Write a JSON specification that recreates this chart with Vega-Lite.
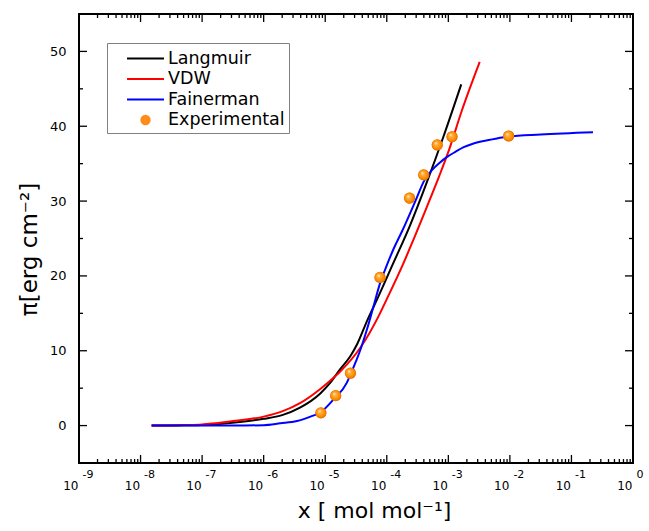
{
  "$schema": "https://vega.github.io/schema/vega-lite/v6.json",
  "width": 554,
  "height": 449,
  "autosize": {"type": "none"},
  "padding": {"left": 79, "top": 14, "right": 16, "bottom": 68},
  "background": "white",
  "config": {"view": {"stroke": "black", "strokeWidth": 2}, "font": "DejaVu Sans"},
  "datasets": {
    "curves": [
      {"x": 1.514e-8, "pi": 0, "series": "Langmuir"},
      {"x": 5.01e-8, "pi": 0.03, "series": "Langmuir"},
      {"x": 1e-7, "pi": 0.08, "series": "Langmuir"},
      {"x": 2.818e-7, "pi": 0.35, "series": "Langmuir"},
      {"x": 1e-6, "pi": 0.9, "series": "Langmuir"},
      {"x": 1.995e-6, "pi": 1.4, "series": "Langmuir"},
      {"x": 3.89e-6, "pi": 2.4, "series": "Langmuir"},
      {"x": 8.318e-6, "pi": 4.3, "series": "Langmuir"},
      {"x": 1.202e-5, "pi": 5.7, "series": "Langmuir"},
      {"x": 1.738e-5, "pi": 7.5, "series": "Langmuir"},
      {"x": 2.57e-5, "pi": 9.3, "series": "Langmuir"},
      {"x": 3.311e-5, "pi": 10.9, "series": "Langmuir"},
      {"x": 4.786e-5, "pi": 14.0, "series": "Langmuir"},
      {"x": 7.079e-5, "pi": 17.0, "series": "Langmuir"},
      {"x": 1.259e-4, "pi": 21.6, "series": "Langmuir"},
      {"x": 2.399e-4, "pi": 26.8, "series": "Langmuir"},
      {"x": 4.467e-4, "pi": 32.5, "series": "Langmuir"},
      {"x": 8.318e-4, "pi": 38.6, "series": "Langmuir"},
      {"x": 1.622e-3, "pi": 45.6, "series": "Langmuir"},
      {"x": 1.514e-8, "pi": 0, "series": "VDW"},
      {"x": 5.01e-8, "pi": 0.07, "series": "VDW"},
      {"x": 1e-7, "pi": 0.15, "series": "VDW"},
      {"x": 2.818e-7, "pi": 0.55, "series": "VDW"},
      {"x": 1e-6, "pi": 1.2, "series": "VDW"},
      {"x": 1.995e-6, "pi": 1.9, "series": "VDW"},
      {"x": 3.89e-6, "pi": 3.0, "series": "VDW"},
      {"x": 8.318e-6, "pi": 4.9, "series": "VDW"},
      {"x": 1.202e-5, "pi": 6.0, "series": "VDW"},
      {"x": 1.738e-5, "pi": 7.2, "series": "VDW"},
      {"x": 3.715e-5, "pi": 10.4, "series": "VDW"},
      {"x": 7.762e-5, "pi": 15.0, "series": "VDW"},
      {"x": 1e-4, "pi": 16.9, "series": "VDW"},
      {"x": 1.778e-4, "pi": 21.3, "series": "VDW"},
      {"x": 2.399e-4, "pi": 23.8, "series": "VDW"},
      {"x": 4.467e-4, "pi": 29.2, "series": "VDW"},
      {"x": 7.079e-4, "pi": 33.3, "series": "VDW"},
      {"x": 1.023e-3, "pi": 36.8, "series": "VDW"},
      {"x": 1.66e-3, "pi": 42.1, "series": "VDW"},
      {"x": 3.236e-3, "pi": 48.6, "series": "VDW"},
      {"x": 1.514e-8, "pi": 0, "series": "Fainerman"},
      {"x": 3.162e-7, "pi": 0, "series": "Fainerman"},
      {"x": 1e-6, "pi": 0.05, "series": "Fainerman"},
      {"x": 1.862e-6, "pi": 0.3, "series": "Fainerman"},
      {"x": 3.467e-6, "pi": 0.6, "series": "Fainerman"},
      {"x": 5.754e-6, "pi": 1.2, "series": "Fainerman"},
      {"x": 8.511e-6, "pi": 1.8, "series": "Fainerman"},
      {"x": 1.365e-5, "pi": 3.5, "series": "Fainerman"},
      {"x": 2.239e-5, "pi": 5.7, "series": "Fainerman"},
      {"x": 2.57e-5, "pi": 6.8, "series": "Fainerman"},
      {"x": 3.162e-5, "pi": 8.6, "series": "Fainerman"},
      {"x": 3.715e-5, "pi": 10.1, "series": "Fainerman"},
      {"x": 4.786e-5, "pi": 12.9, "series": "Fainerman"},
      {"x": 6.026e-5, "pi": 15.8, "series": "Fainerman"},
      {"x": 7.762e-5, "pi": 19.0, "series": "Fainerman"},
      {"x": 9.772e-5, "pi": 21.2, "series": "Fainerman"},
      {"x": 1.288e-4, "pi": 23.6, "series": "Fainerman"},
      {"x": 1.778e-4, "pi": 26.0, "series": "Fainerman"},
      {"x": 2.399e-4, "pi": 28.4, "series": "Fainerman"},
      {"x": 3.09e-4, "pi": 30.5, "series": "Fainerman"},
      {"x": 3.981e-4, "pi": 32.6, "series": "Fainerman"},
      {"x": 5.37e-4, "pi": 34.1, "series": "Fainerman"},
      {"x": 7.413e-4, "pi": 35.2, "series": "Fainerman"},
      {"x": 9.55e-4, "pi": 35.9, "series": "Fainerman"},
      {"x": 1.318e-3, "pi": 36.6, "series": "Fainerman"},
      {"x": 1.778e-3, "pi": 37.2, "series": "Fainerman"},
      {"x": 2.57e-3, "pi": 37.7, "series": "Fainerman"},
      {"x": 4.786e-3, "pi": 38.2, "series": "Fainerman"},
      {"x": 8.913e-3, "pi": 38.6, "series": "Fainerman"},
      {"x": 3.162e-2, "pi": 38.9, "series": "Fainerman"},
      {"x": 0.2239, "pi": 39.2, "series": "Fainerman"}
    ],
    "exp": [
      {"x": 8.51e-6, "pi": 1.7},
      {"x": 1.479e-5, "pi": 4.0},
      {"x": 2.57e-5, "pi": 7.0},
      {"x": 7.762e-5, "pi": 19.8},
      {"x": 2.344e-4, "pi": 30.4},
      {"x": 3.981e-4, "pi": 33.5},
      {"x": 6.607e-4, "pi": 37.5},
      {"x": 1.148e-3, "pi": 38.6},
      {"x": 9.55e-3, "pi": 38.7}
    ],
    "xticks": [
      {"t": 1e-9, "kind": "major"}, {"t": 2e-9, "kind": "minor"}, {"t": 3e-9, "kind": "minor"}, {"t": 4e-9, "kind": "minor"}, {"t": 5e-9, "kind": "minor"}, {"t": 6e-9, "kind": "minor"}, {"t": 7e-9, "kind": "minor"}, {"t": 8e-9, "kind": "minor"}, {"t": 9e-9, "kind": "minor"},
      {"t": 1e-8, "kind": "major"}, {"t": 2e-8, "kind": "minor"}, {"t": 3e-8, "kind": "minor"}, {"t": 4e-8, "kind": "minor"}, {"t": 5e-8, "kind": "minor"}, {"t": 6e-8, "kind": "minor"}, {"t": 7e-8, "kind": "minor"}, {"t": 8e-8, "kind": "minor"}, {"t": 9e-8, "kind": "minor"},
      {"t": 1e-7, "kind": "major"}, {"t": 2e-7, "kind": "minor"}, {"t": 3e-7, "kind": "minor"}, {"t": 4e-7, "kind": "minor"}, {"t": 5e-7, "kind": "minor"}, {"t": 6e-7, "kind": "minor"}, {"t": 7e-7, "kind": "minor"}, {"t": 8e-7, "kind": "minor"}, {"t": 9e-7, "kind": "minor"},
      {"t": 1e-6, "kind": "major"}, {"t": 2e-6, "kind": "minor"}, {"t": 3e-6, "kind": "minor"}, {"t": 4e-6, "kind": "minor"}, {"t": 5e-6, "kind": "minor"}, {"t": 6e-6, "kind": "minor"}, {"t": 7e-6, "kind": "minor"}, {"t": 8e-6, "kind": "minor"}, {"t": 9e-6, "kind": "minor"},
      {"t": 1e-5, "kind": "major"}, {"t": 2e-5, "kind": "minor"}, {"t": 3e-5, "kind": "minor"}, {"t": 4e-5, "kind": "minor"}, {"t": 5e-5, "kind": "minor"}, {"t": 6e-5, "kind": "minor"}, {"t": 7e-5, "kind": "minor"}, {"t": 8e-5, "kind": "minor"}, {"t": 9e-5, "kind": "minor"},
      {"t": 1e-4, "kind": "major"}, {"t": 2e-4, "kind": "minor"}, {"t": 3e-4, "kind": "minor"}, {"t": 4e-4, "kind": "minor"}, {"t": 5e-4, "kind": "minor"}, {"t": 6e-4, "kind": "minor"}, {"t": 7e-4, "kind": "minor"}, {"t": 8e-4, "kind": "minor"}, {"t": 9e-4, "kind": "minor"},
      {"t": 1e-3, "kind": "major"}, {"t": 2e-3, "kind": "minor"}, {"t": 3e-3, "kind": "minor"}, {"t": 4e-3, "kind": "minor"}, {"t": 5e-3, "kind": "minor"}, {"t": 6e-3, "kind": "minor"}, {"t": 7e-3, "kind": "minor"}, {"t": 8e-3, "kind": "minor"}, {"t": 9e-3, "kind": "minor"},
      {"t": 1e-2, "kind": "major"}, {"t": 2e-2, "kind": "minor"}, {"t": 3e-2, "kind": "minor"}, {"t": 4e-2, "kind": "minor"}, {"t": 5e-2, "kind": "minor"}, {"t": 6e-2, "kind": "minor"}, {"t": 7e-2, "kind": "minor"}, {"t": 8e-2, "kind": "minor"}, {"t": 9e-2, "kind": "minor"},
      {"t": 1e-1, "kind": "major"}, {"t": 2e-1, "kind": "minor"}, {"t": 3e-1, "kind": "minor"}, {"t": 4e-1, "kind": "minor"}, {"t": 5e-1, "kind": "minor"}, {"t": 6e-1, "kind": "minor"}, {"t": 7e-1, "kind": "minor"}, {"t": 8e-1, "kind": "minor"}, {"t": 9e-1, "kind": "minor"},
      {"t": 1, "kind": "major"}
    ],
    "yticks": [
      {"v": 0, "kind": "major"}, {"v": 5, "kind": "minor"}, {"v": 10, "kind": "major"}, {"v": 15, "kind": "minor"},
      {"v": 20, "kind": "major"}, {"v": 25, "kind": "minor"}, {"v": 30, "kind": "major"}, {"v": 35, "kind": "minor"},
      {"v": 40, "kind": "major"}, {"v": 45, "kind": "minor"}, {"v": 50, "kind": "major"}
    ]
  },
  "layer": [
    {
      "data": {"name": "curves"},
      "transform": [{"filter": "datum.series === 'Langmuir'"}],
      "mark": {"type": "line", "strokeWidth": 2, "interpolate": "monotone"},
      "encoding": {
        "x": {
          "field": "x", "type": "quantitative",
          "scale": {"type": "log", "domain": [1e-9, 1], "nice": false},
          "axis": {
            "orient": "bottom", "domain": false, "grid": false, "ticks": false, "tickSize": 0,
            "values": [1e-9,1e-8,1e-7,1e-6,1e-5,1e-4,1e-3,1e-2,1e-1,1],
            "labelExpr": "'10'",
            "labelAlign": "right", "labelOffset": -1, "labelPadding": 17,
            "labelFont": "DejaVu Sans", "labelFontSize": 12, "labelColor": "black",
            "labelFlush": false, "labelOverlap": false, "labelBound": false,
            "title": "x [ mol mol⁻¹]", "titleFont": "DejaVu Sans", "titleFontSize": 22, "titleFontWeight": "normal", "titleColor": "black",
            "titleX": 295, "titleY": 54, "titleBaseline": "alphabetic", "titleAlign": "center"
          }
        },
        "y": {
          "field": "pi", "type": "quantitative",
          "scale": {"domain": [-5, 55], "nice": false, "zero": false},
          "axis": {
            "orient": "left", "domain": false, "grid": false, "ticks": false, "tickSize": 0,
            "values": [0,10,20,30,40,50],
            "labelPadding": 13, "labelFont": "DejaVu Sans", "labelFontSize": 13, "labelColor": "black",
            "labelFlush": false, "labelOverlap": false,
            "title": "π[erg cm⁻²]", "titleFont": "DejaVu Sans", "titleFontSize": 23, "titleFontWeight": "normal", "titleColor": "black",
            "titleX": -43, "titleY": 235, "titleBaseline": "alphabetic", "titleAlign": "center", "titleAngle": -90
          }
        },
        "color": {
          "field": "series", "type": "nominal",
          "scale": {"domain": ["Langmuir", "VDW", "Fainerman", "Experimental"], "range": ["#000000", "#ff0000", "#0000ff", "#ff8c1a"]},
          "legend": {
            "orient": "none", "legendX": 28, "legendY": 29, "title": null,
            "padding": 4, "strokeColor": "#808080", "fillColor": "white",
            "symbolType": "M-1.76,0H1.76", "symbolSize": 441, "symbolStrokeWidth": 2,
            "symbolOffset": 23, "labelOffset": 11, "rowPadding": 0.5,
            "labelFont": "DejaVu Sans", "labelFontSize": 17.5, "labelColor": "black",
            "encode": {
              "symbols": {
                "update": {
                  "shape": {"signal": "datum.value === 'Experimental' ? 'circle' : 'M-1.76,0H1.76'"},
                  "size": {"signal": "datum.value === 'Experimental' ? 70 : 441"},
                  "fill": {"signal": "datum.value === 'Experimental' ? '#ff8c1a' : 'transparent'"},
                  "stroke": {"signal": "datum.value === 'Experimental' ? 'transparent' : scale('color', datum.value)"},
                  "strokeWidth": {"value": 2}
                }
              }
            }
          }
        }
      }
    },
    {
      "data": {"name": "curves"},
      "transform": [{"filter": "datum.series === 'VDW'"}],
      "mark": {"type": "line", "strokeWidth": 2, "interpolate": "monotone"},
      "encoding": {
        "x": {
          "field": "x", "type": "quantitative",
          "scale": {"type": "log", "domain": [1e-9, 1], "nice": false},
          "axis": {
            "orient": "bottom", "domain": false, "grid": false, "ticks": false, "tickSize": 0,
            "values": [1e-9,1e-8,1e-7,1e-6,1e-5,1e-4,1e-3,1e-2,1e-1,1],
            "labelExpr": "'' + round(log(datum.value)/LN10)",
            "labelAlign": "left", "labelOffset": 3, "labelPadding": 5,
            "labelFont": "DejaVu Sans", "labelFontSize": 11, "labelColor": "black",
            "labelFlush": false, "labelOverlap": false, "labelBound": false,
            "title": null
          }
        },
        "y": {"field": "pi", "type": "quantitative", "scale": {"domain": [-5, 55], "nice": false, "zero": false}, "axis": null},
        "color": {
          "field": "series", "type": "nominal",
          "scale": {"domain": ["Langmuir", "VDW", "Fainerman", "Experimental"], "range": ["#000000", "#ff0000", "#0000ff", "#ff8c1a"]}
        }
      }
    },
    {
      "data": {"name": "curves"},
      "transform": [{"filter": "datum.series === 'Fainerman'"}],
      "mark": {"type": "line", "strokeWidth": 2, "interpolate": "monotone"},
      "encoding": {
        "x": {"field": "x", "type": "quantitative", "scale": {"type": "log", "domain": [1e-9, 1], "nice": false}, "axis": null},
        "y": {"field": "pi", "type": "quantitative", "scale": {"domain": [-5, 55], "nice": false, "zero": false}, "axis": null},
        "color": {
          "field": "series", "type": "nominal",
          "scale": {"domain": ["Langmuir", "VDW", "Fainerman", "Experimental"], "range": ["#000000", "#ff0000", "#0000ff", "#ff8c1a"]}
        }
      }
    },
    {
      "data": {"name": "exp"},
      "mark": {"type": "point", "filled": true, "size": 125, "opacity": 1, "strokeWidth": 0, "fill": "#e8790c"},
      "encoding": {
        "x": {"field": "x", "type": "quantitative", "scale": {"type": "log", "domain": [1e-9, 1], "nice": false}, "axis": null},
        "y": {"field": "pi", "type": "quantitative", "scale": {"domain": [-5, 55], "nice": false, "zero": false}, "axis": null}
      }
    },
    {
      "data": {"name": "exp"},
      "mark": {
        "type": "point", "filled": true, "size": 120, "opacity": 1, "strokeWidth": 0,
        "fill": {"gradient": "radial", "x1": 0.36, "y1": 0.32, "r1": 0, "x2": 0.5, "y2": 0.5, "r2": 0.55,
          "stops": [{"offset": 0, "color": "#ffffff"}, {"offset": 0.25, "color": "#ffb347"}, {"offset": 0.7, "color": "#ff8c00"}, {"offset": 1, "color": "#d96800"}]}
      },
      "encoding": {
        "x": {"field": "x", "type": "quantitative", "scale": {"type": "log", "domain": [1e-9, 1], "nice": false}, "axis": null},
        "y": {"field": "pi", "type": "quantitative", "scale": {"domain": [-5, 55], "nice": false, "zero": false}, "axis": null}
      }
    },
    {
      "data": {"name": "xticks"},
      "mark": {"type": "tick", "orient": "vertical", "clip": true, "color": "black", "thickness": 1.3, "opacity": 1},
      "encoding": {
        "x": {"field": "t", "type": "quantitative", "scale": {"type": "log", "domain": [1e-9, 1], "nice": false}, "axis": null},
        "y": {"datum": -5, "type": "quantitative", "scale": {"domain": [-5, 55], "nice": false, "zero": false}, "axis": null},
        "size": {"field": "kind", "type": "nominal", "scale": {"domain": ["major", "minor"], "range": [16, 8]}, "legend": null}
      }
    },
    {
      "data": {"name": "xticks"},
      "mark": {"type": "tick", "orient": "vertical", "clip": true, "color": "black", "thickness": 1.3, "opacity": 1},
      "encoding": {
        "x": {"field": "t", "type": "quantitative", "scale": {"type": "log", "domain": [1e-9, 1], "nice": false}, "axis": null},
        "y": {"datum": 55, "type": "quantitative", "scale": {"domain": [-5, 55], "nice": false, "zero": false}, "axis": null},
        "size": {"field": "kind", "type": "nominal", "scale": {"domain": ["major", "minor"], "range": [16, 8]}, "legend": null}
      }
    },
    {
      "data": {"name": "yticks"},
      "mark": {"type": "tick", "orient": "horizontal", "clip": true, "color": "black", "thickness": 1.3, "opacity": 1},
      "encoding": {
        "x": {"datum": 1e-9, "type": "quantitative", "scale": {"type": "log", "domain": [1e-9, 1], "nice": false}, "axis": null},
        "y": {"field": "v", "type": "quantitative", "scale": {"domain": [-5, 55], "nice": false, "zero": false}, "axis": null},
        "size": {"field": "kind", "type": "nominal", "scale": {"domain": ["major", "minor"], "range": [16, 8]}, "legend": null}
      }
    },
    {
      "data": {"name": "yticks"},
      "mark": {"type": "tick", "orient": "horizontal", "clip": true, "color": "black", "thickness": 1.3, "opacity": 1},
      "encoding": {
        "x": {"datum": 1, "type": "quantitative", "scale": {"type": "log", "domain": [1e-9, 1], "nice": false}, "axis": null},
        "y": {"field": "v", "type": "quantitative", "scale": {"domain": [-5, 55], "nice": false, "zero": false}, "axis": null},
        "size": {"field": "kind", "type": "nominal", "scale": {"domain": ["major", "minor"], "range": [16, 8]}, "legend": null}
      }
    }
  ],
  "resolve": {"axis": {"x": "independent", "y": "independent"}}
}
